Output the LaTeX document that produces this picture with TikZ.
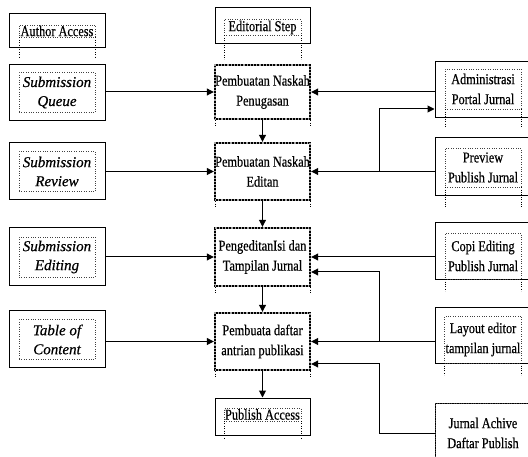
\documentclass[tikz,border=0pt]{standalone}
\usepackage{fontspec}
\setmainfont{Liberation Serif}[UprightFeatures={FakeStretch=0.82, FakeBold=0.5}, ItalicFeatures={FakeBold=0.6}]
\usetikzlibrary{arrows.meta}

\begin{document}
\begin{tikzpicture}[
                x = 1pt, y = -1pt,
                > = {Triangle[length=7pt,width=7pt]},
                font = \fontsize{15}{20}\selectfont,
                semithick
                ]

                \tikzstyle{kotak}=[
                        draw = black,
                        line width = 1pt,
                        rectangle,
                        fill = white,
                        minimum width = 96pt,
                        inner sep = 0pt
                ]
                \tikzstyle{dalam}=[
                        draw = black!75,
                        dotted,
                        thin,
                        align = center,
                        minimum width = 76pt,
                        inner sep = 1pt
                ]
                \tikzstyle{miring}=[
                        dalam,
                        minimum height = 40pt,
                        font = \fontsize{15}{19}\selectfont\itshape
                ]
                \tikzstyle{proses}=[
                        draw = black,
                        line width = 2.4pt,
                        postaction = {draw = black!35, line width = 1.2pt, dotted},
                        fill = white,
                        align = center,
                        minimum width = 95pt,
                        inner sep = 0pt
                ]
                \tikzstyle{panah}=[->, line width = 1pt]

                \useasboundingbox (0,0) rectangle (528,457);
                \clip (0,0) rectangle (528,457);

                % kolom kiri
                \node[kotak, minimum height = 34pt] (aa) at (57,31) {};
                \node[dalam] (aa-in) at (aa) {Author Access};
                \node[kotak, minimum height = 56pt] (sq) at (57,92.5) {};
                \node[miring] (sq-in) at (sq) {Submission\\Queue};
                \node[kotak, minimum height = 57pt] (sr) at (57,171.5) {};
                \node[miring] (sr-in) at (sr) {Submission\\Review};
                \node[kotak, minimum height = 58pt] (se) at (57,257) {};
                \node[miring] (se-in) at (se) {Submission\\Editing};
                \node[kotak, minimum height = 57pt] (toc) at (57,339.5) {};
                \node[miring] (toc-in) at (toc) {Table of\\Content};

                % kolom tengah
                \node[kotak, minimum width = 95pt, minimum height = 36pt] (es) at (262.5,26) {};
                \node[dalam, minimum width = 77pt] (es-in) at (262.5,27.5) {Editorial Step};
                \node[proses, minimum height = 54pt] (pen) at (262.5,92) {Pembuatan Naskah\\Penugasan};
                \node[proses, minimum height = 57pt] (ed) at (262.5,171.5) {Pembuatan Naskah\\Editan};
                \node[proses, minimum height = 58pt] (pg) at (262.5,257) {PengeditanIsi dan\\Tampilan Jurnal};
                \node[proses, minimum height = 57pt] (pb) at (262.5,341.5) {Pembuata daftar\\antrian publikasi};
                \node[kotak, minimum width = 95pt, minimum height = 37pt] (pa) at (262.5,416.5) {};
                \node[dalam, minimum width = 77pt] (pa-in) at (262.5,414.5) {Publish Access};

                % kolom kanan
                \node[kotak, minimum height = 56pt] (adm) at (483,90) {};
                \node[dalam, minimum height = 40pt] (adm-in) at (483,89) {Administrasi\\Portal Jurnal};
                \node[kotak, minimum height = 58pt] (prev) at (483,167) {};
                \node[dalam, minimum height = 39pt] (prev-in) at (483,167.5) {Preview\\Publish Jurnal};
                \node[kotak, minimum height = 57pt] (copi) at (483,251.5) {};
                \node[dalam, minimum height = 46pt] (copi-in) at (483,256) {Copi Editing\\Publish Jurnal};
                \node[kotak, minimum height = 56pt] (lay) at (483,336) {};
                \node[dalam, minimum height = 47pt] (lay-in) at (483,339.5) {Layout editor\\tampilan jurnal};
                \node[kotak, minimum height = 60pt] (jur) at (483,433) {};
                \node[dalam, minimum height = 60pt, minimum width = 96pt] (jur-in) at (jur) {Jurnal Achive\\Daftar Publish};

                % kaki bergaris titik
                \foreach \n/\l in {aa/21, es/24, pa/17, adm/18, prev/20, copi/12, lay/12}
                {
                        \draw[dotted, thin] (\n-in.south west) -- ++(0,\l);
                        \draw[dotted, thin] (\n-in.south east) -- ++(0,\l);
                }
                \foreach \n in {pen, ed, pg, pb}
                {
                        \draw[dotted, thin] ([xshift=1pt]\n.south west) -- ++(0,6);
                        \draw[dotted, thin] ([xshift=-1pt]\n.south east) -- ++(0,6);
                }

                % kiri ke tengah
                \draw[panah] (pen.west -| sq.east) -- (pen.west);
                \draw[panah] (ed.west -| sr.east) -- (ed.west);
                \draw[panah] (pg.west -| se.east) -- (pg.west);
                \draw[panah] (pb.west -| toc.east) -- (pb.west);

                % alur tengah
                \draw[panah] (pen) -- (ed);
                \draw[panah] (ed) -- (pg);
                \draw[panah] (pg) -- (pb);
                \draw[panah] (pb) -- (pa);

                % kanan ke tengah
                \coordinate (j1) at (379,171.5);
                \coordinate (j2) at (379,341.5);
                \draw[panah] (pen.east -| adm.west) -- (pen.east);
                \draw[panah] (ed.east -| prev.west) -- (ed.east);
                \draw[panah] (j1) |- ([yshift=-19pt]adm.west);
                \draw[panah] (pg.east -| copi.west) -- (pg.east);
                \draw[panah] (pb.east -| lay.west) -- (pb.east);
                \draw[panah] (j2) |- ([yshift=-15pt]pg.east);
                \draw[panah] (jur.west) -- (jur.west -| j2) |- ([yshift=-22.5pt]pb.east);
\end{tikzpicture}
\end{document}
